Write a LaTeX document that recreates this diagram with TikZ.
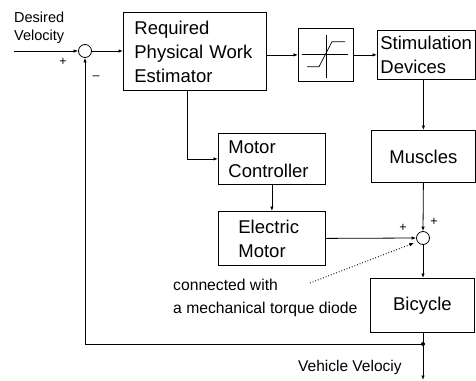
\documentclass[tikz,border=0pt]{standalone}
\usepackage{fontspec}
\setmainfont{Liberation Sans}
\usetikzlibrary{arrows.meta,calc}
\begin{document}
\begin{tikzpicture}[x=1pt,y=-1pt,
  blk/.style={draw, line width=0.8pt, align=left, font=\fontsize{18.5}{24}\selectfont, inner ysep=0pt, anchor=north west},
  sumc/.style={draw, circle, line width=0.8pt, minimum size=13pt, inner sep=0pt},
  lbl/.style={inner sep=0pt, align=left},
  sgn/.style={font=\fontsize{12.5}{12.5}\selectfont, inner sep=0pt},
  con/.style={line width=0.8pt},
  arr/.style={con, -{Latex[length=4.5pt,width=3.5pt]}}]
\useasboundingbox (0,0) rectangle (476,380);

% blocks
\node[blk, minimum width=143pt, minimum height=78pt, inner xsep=11pt, text width=121pt] (REQ) at (123,12) {Required\\Physical Work\\Estimator};
\node[blk, minimum width=55pt, minimum height=53pt] (SAT) at (298,28) {};
\node[blk, minimum width=98pt, minimum height=49pt, inner xsep=3pt, text width=92pt] (STIM) at (377,30) {Stimulation\\Devices};
\node[blk, minimum width=104pt, minimum height=52pt, align=center] (MUS) at (371,130) {Muscles};
\node[blk, minimum width=107pt, minimum height=51pt, inner xsep=10pt, text width=87pt] (MC) at (218,133) {Motor\\Controller};
\node[blk, minimum width=107pt, minimum height=54pt, inner xsep=20pt, text width=67pt] (EM) at (218,211) {Electric\\Motor};
\node[blk, minimum width=104pt, minimum height=54pt, align=center] (BIC) at (370,278) {Bicycle};

% summing junctions
\node[sumc] (S1) at (85,51) {};
\node[sumc] (S2) at (423,238) {};
\fill (423,344) circle (2pt) coordinate (dot);
\coordinate (in) at (14,51);
\coordinate (out) at (423,380);
\coordinate (dstart) at (310,283);

% saturation symbol
\draw[line width=0.7pt] ($(SAT.north)+(0,7)$) -- ($(SAT.south)+(0,-4)$);
\draw[line width=0.7pt] ($(SAT.west)+(4,-1)$) -- ($(SAT.east)+(-6,-1)$);
\draw[line width=0.7pt] (307,66.7) -- (319,66.7) -- (332,41.7) -- (345,41.7);

% labels
\node[lbl, font=\fontsize{14.5}{17.5}\selectfont, anchor=north west] (dv) at (14,12) {Desired\\Velocity};
\node[lbl, font=\fontsize{15.7}{23}\selectfont, anchor=north west] (note) at (173,279) {connected with\\a mechanical torque diode};
\node[lbl, font=\fontsize{15.5}{18}\selectfont, anchor=base west] (vv) at (298,371) {Vehicle Velociy};
\node[sgn] (p1) at (63,62) {+};
\node[sgn] (m1) at (96,78) {–};
\node[sgn] (p2) at (403,228) {+};
\node[sgn] (p3) at (434,222) {+};

% connectors
\draw[arr] (in) -- (S1.west);
\draw[arr] (S1.east) -- (REQ.west |- S1.east);
\draw[arr] (SAT.west -| REQ.east) -- (SAT.west);
\draw[arr] (SAT.east) -- (STIM.west |- SAT.east);
\draw[arr] (STIM.south -| MUS.north) -- (MUS.north);
\draw[arr] ($(REQ.south west)!0.448!(REQ.south east)$) |- (MC.west);
\draw[arr] (MC.south) -- (EM.north);
\draw[arr] (EM.east) -- (S2.west);
\draw[arr] (MUS.south) -- (S2.north);
\draw[arr] (S2.south) -- (BIC.north -| S2.south);
\draw[con] (BIC.south -| dot) -- (dot);
\draw[arr] (dot) -- (out);
\draw[arr] (dot) -- (dot -| S1.south) -- (S1.south);
\draw[con, dotted, line width=1pt, -{Latex[length=5pt,width=3.5pt]}, shorten >=3pt] (dstart) -- (S2.213);
\end{tikzpicture}
\end{document}
